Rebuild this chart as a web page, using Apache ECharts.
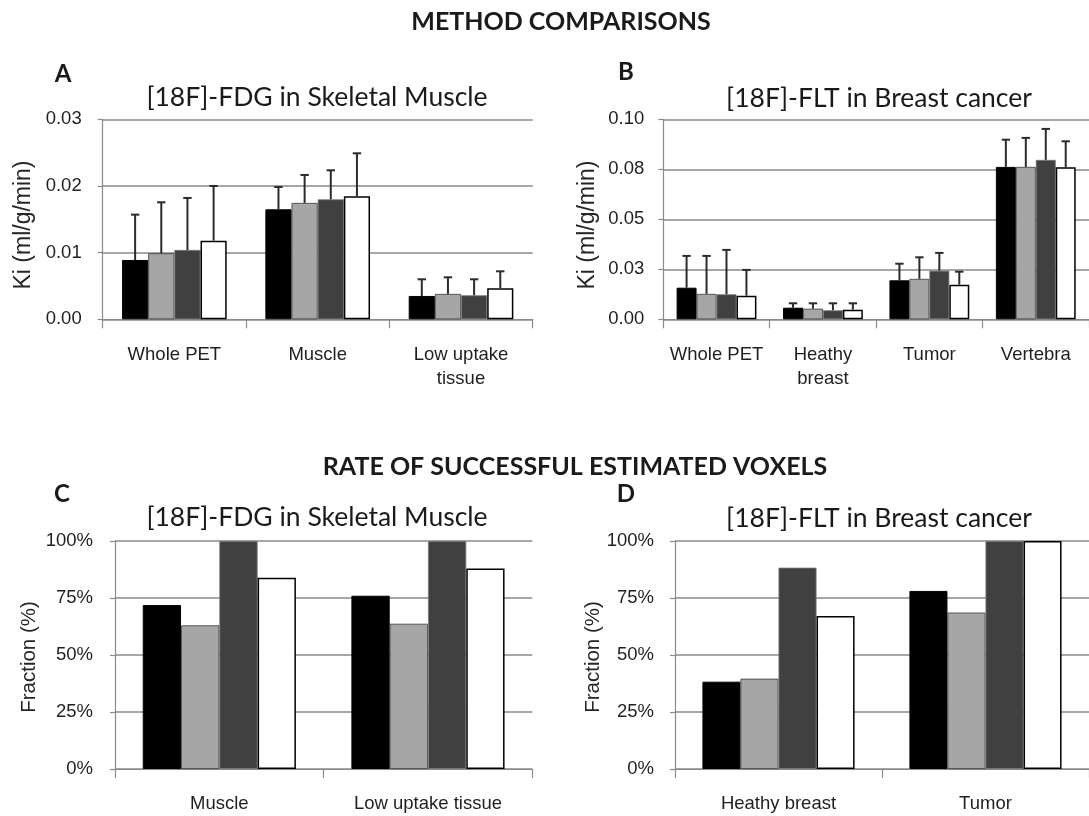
<!DOCTYPE html>
<html>
<head>
<meta charset="utf-8">
<script src="https://cdn.jsdelivr.net/npm/echarts@6/dist/echarts.min.js"></script>
<style>html,body{margin:0;padding:0;background:#fff}#c{width:1089px;height:816px}</style>
</head>
<body>
<div id="c"></div>
<script>
// ---------- DATA ----------
const catsA = ['Whole PET', 'Muscle', 'Low uptake\ntissue'];
const catsB = ['Whole PET', 'Heathy\nbreast', 'Tumor', 'Vertebra'];
const catsC = ['Muscle', 'Low uptake tissue'];
const catsD = ['Heathy breast', 'Tumor'];

// Panel A: Ki (ml/g/min), [18F]-FDG in skeletal muscle — bar means and error-bar tops
const aBlack = [0.0089, 0.0165, 0.0035];
const aGray  = [0.0099, 0.01745, 0.0038];
const aDark  = [0.0104, 0.0180, 0.0036];
const aWhite = [0.0118, 0.01845, 0.00465];
const aBlackTop = [0.0157, 0.01985, 0.0060];
const aGrayTop  = [0.01755, 0.02165, 0.0063];
const aDarkTop  = [0.0182, 0.02235, 0.0060];
const aWhiteTop = [0.0200, 0.0249, 0.0072];

// Panel B: Ki (ml/g/min), [18F]-FLT in breast cancer
const bBlack = [0.0158, 0.0058, 0.0195, 0.0762];
const bGray  = [0.0127, 0.0053, 0.0202, 0.0762];
const bDark  = [0.0125, 0.0045, 0.0243, 0.0797];
const bWhite = [0.0118, 0.0048, 0.0173, 0.0760];
const bBlackTop = [0.0317, 0.0080, 0.0278, 0.0898];
const bGrayTop  = [0.0317, 0.0080, 0.0310, 0.0907];
const bDarkTop  = [0.0347, 0.0080, 0.0332, 0.0952];
const bWhiteTop = [0.0247, 0.0080, 0.0238, 0.0890];

// Panel C / D: fraction of successfully estimated voxels (%)
const cBlack = [71.9, 76.0];
const cGray  = [63.0, 63.7];
const cDark  = [100, 100];
const cWhite = [83.9, 87.9];
const dBlack = [38.3, 78.1];
const dGray  = [39.6, 68.6];
const dDark  = [88.3, 100];
const dWhite = [67.1, 100];

// Tick labels
const ticksA = ['0.00', '0.01', '0.02', '0.03'];
const ticksB = ['0.00', '0.03', '0.05', '0.08', '0.10'];
const ticksPct = ['0%', '25%', '50%', '75%', '100%'];

// ---------- STYLE ----------
const AX = '#8a8a8a';
const TXT = '#1f1f1f';
const LBL_FONT = "Arial, 'Liberation Sans', sans-serif";
const HEAD_FONT = "Lato, 'Open Sans', sans-serif";
const barStyles = [
  {color: '#000000', borderColor: '#000000', borderWidth: 1},
  {color: '#a6a6a6', borderColor: '#3a3a3a', borderWidth: 0.8},
  {color: '#404040', borderColor: '#7a7a7a', borderWidth: 0.8},
  {color: '#ffffff', borderColor: '#000000', borderWidth: 1.5}
];

const grids = [
  {left: 102.7, top: 119.3, width: 430, height: 200},
  {left: 663.3, top: 119.3, width: 430.7, height: 200},
  {left: 115, top: 541, width: 417.3, height: 228},
  {left: 675, top: 541, width: 417.3, height: 228}
];
const gaps = [0.27, 0.25, 0.266, 0.265];

const panels = [
  {cats: catsA, vals: [aBlack, aGray, aDark, aWhite], tops: [aBlackTop, aGrayTop, aDarkTop, aWhiteTop],
   min: 0, max: 0.03, interval: 0.01, ticks: ticksA, labelMargin: 21},
  {cats: catsB, vals: [bBlack, bGray, bDark, bWhite], tops: [bBlackTop, bGrayTop, bDarkTop, bWhiteTop],
   min: 0, max: 0.1, interval: 0.025, ticks: ticksB, labelMargin: 19},
  {cats: catsC, vals: [cBlack, cGray, cDark, cWhite], tops: null,
   min: 0, max: 100, interval: 25, ticks: ticksPct, labelMargin: 22},
  {cats: catsD, vals: [dBlack, dGray, dDark, dWhite], tops: null,
   min: 0, max: 100, interval: 25, ticks: ticksPct, labelMargin: 21}
];

const xAxes = [], yAxes = [], series = [];
panels.forEach((p, gi) => {
  xAxes.push({
    type: 'category', gridIndex: gi, data: p.cats,
    axisLine: {show: true, lineStyle: {color: AX, width: 1.2}},
    axisTick: {show: true, length: 9, lineStyle: {color: AX, width: 1.2}},
    axisLabel: {color: TXT, fontFamily: LBL_FONT, fontSize: 18.5, margin: gi < 2 ? 24 : 23, lineHeight: 24, interval: 0},
    splitLine: {show: false}
  });
  yAxes.push({
    type: 'value', gridIndex: gi, min: p.min, max: p.max, interval: p.interval,
    axisLine: {show: true, lineStyle: {color: AX, width: 1.2}},
    axisTick: {show: true, length: 5, lineStyle: {color: AX, width: 1.2}},
    axisLabel: {color: TXT, fontFamily: LBL_FONT, fontSize: 18.5, margin: p.labelMargin,
      formatter: (v, idx) => p.ticks[idx]},
    splitLine: {show: true, lineStyle: {color: AX, width: 1.5}}
  });
  p.vals.forEach((arr, si) => {
    series.push({
      type: 'bar', xAxisIndex: gi, yAxisIndex: gi, data: arr,
      barGap: '0%', barCategoryGap: (gaps[gi] * 100) + '%',
      itemStyle: barStyles[si], silent: true, animation: false, z: 2
    });
  });
  if (p.tops) {
    p.vals.forEach((arr, si) => {
      const d = arr.map((v, ci) => [ci, p.tops[si][ci], v]);
      series.push({
        type: 'custom', xAxisIndex: gi, yAxisIndex: gi, data: d, z: 5, silent: true, animation: false,
        renderItem: (params, api) => {
          const ci = api.value(0);
          const top = api.coord([ci, api.value(1)]);
          const bot = api.coord([ci, api.value(2)]);
          const band = api.size([1, 0])[0];
          const groupW = band * (1 - gaps[gi]);
          const barW = groupW / 4;
          const x = top[0] - groupW / 2 + (si + 0.5) * barW;
          const cap = 4.2;
          const st = {stroke: '#2b2b2b', lineWidth: 2};
          return {type: 'group', children: [
            {type: 'line', shape: {x1: x, y1: bot[1], x2: x, y2: top[1]}, style: st},
            {type: 'line', shape: {x1: x - cap, y1: top[1], x2: x + cap, y2: top[1]}, style: st}
          ]};
        }
      });
    });
  }
});

function txt(text, x, y, size, weight, font, extra) {
  return Object.assign({type: 'text', x: x, y: y, silent: true, z: 10,
    style: {text: text, fontSize: size, fontWeight: weight, fontFamily: font,
      fill: font === LBL_FONT ? '#262626' : '#1a1a1a',
      align: 'center', verticalAlign: 'middle'}}, extra || {});
}

const graphics = [
  txt('METHOD COMPARISONS', 561, 22, 25, 'bold', HEAD_FONT),
  txt('RATE OF SUCCESSFUL ESTIMATED VOXELS', 575, 467, 25, 'bold', HEAD_FONT),
  txt('A', 63, 74, 24, 'bold', HEAD_FONT),
  txt('B', 626, 72, 24, 'bold', HEAD_FONT),
  txt('C', 62, 494, 24, 'bold', HEAD_FONT),
  txt('D', 626, 494, 24, 'bold', HEAD_FONT),
  txt('[18F]-FDG in Skeletal Muscle', 317, 97, 26.5, 'normal', HEAD_FONT),
  txt('[18F]-FLT in Breast cancer', 879, 98, 26.5, 'normal', HEAD_FONT),
  txt('[18F]-FDG in Skeletal Muscle', 317, 517, 26.5, 'normal', HEAD_FONT),
  txt('[18F]-FLT in Breast cancer', 879, 518, 26.5, 'normal', HEAD_FONT),
  txt('Ki (ml/g/min)', 24, 225, 23, 'normal', LBL_FONT, {rotation: Math.PI / 2}),
  txt('Ki (ml/g/min)', 588, 225, 23, 'normal', LBL_FONT, {rotation: Math.PI / 2}),
  txt('Fraction (%)', 29, 657, 20.5, 'normal', LBL_FONT, {rotation: Math.PI / 2}),
  txt('Fraction (%)', 593, 657, 20.5, 'normal', LBL_FONT, {rotation: Math.PI / 2})
];

const chart = echarts.init(document.getElementById('c'), null, {renderer: 'canvas'});
chart.setOption({
  animation: false,
  backgroundColor: '#ffffff',
  grid: grids,
  xAxis: xAxes,
  yAxis: yAxes,
  series: series,
  graphic: graphics
});
</script>
</body>
</html>
